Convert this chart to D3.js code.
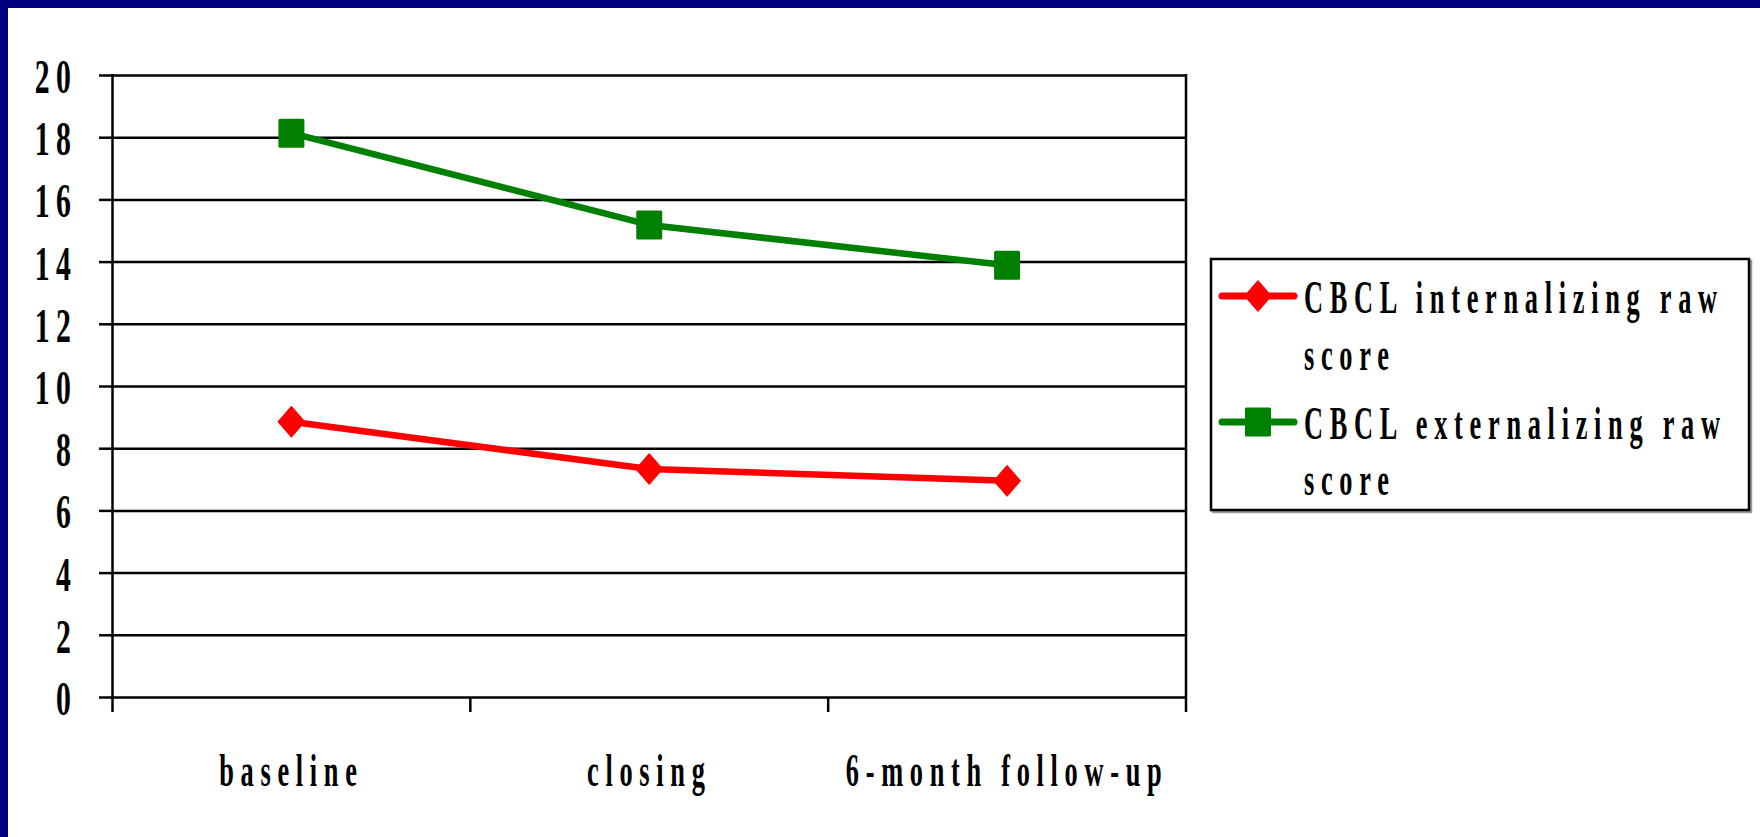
<!DOCTYPE html>
<html>
<head>
<meta charset="utf-8">
<script src="https://cdn.jsdelivr.net/npm/d3@7"></script>
<style>
  html, body { margin: 0; padding: 0; background: #fff; }
  svg { display: block; }
  .lbl { font-family: "Liberation Serif", "Times New Roman", serif; font-weight: bold; fill: #000; }
</style>
</head>
<body>
<svg id="chart" width="1760" height="837"></svg>
<script>
const categories = ["baseline", "closing", "6-month follow-up"];
const internalizing = [8.85, 7.33, 6.95];
const externalizing = [18.13, 15.18, 13.88];
const yTicks = [0, 2, 4, 6, 8, 10, 12, 14, 16, 18, 20];
const seriesNames = [["CBCL internalizing raw", "score"], ["CBCL externalizing raw", "score"]];

const W = 1760, H = 837;
const svg = d3.select("#chart");

// background with navy frame on top and left
svg.append("rect").attr("x", 0).attr("y", 0).attr("width", W).attr("height", H).attr("fill", "#000080");
svg.append("rect").attr("x", 8).attr("y", 8).attr("width", W - 8).attr("height", H - 8).attr("fill", "#fff");

const plot = { left: 112.5, right: 1186, top: 75, bottom: 697 };
const x = d3.scaleBand().domain(categories).range([plot.left, plot.right]).padding(0);
const y = d3.scaleLinear().domain([0, 20]).range([plot.bottom, plot.top]);

function condText(g, tx, ty, str, anchor, fs, sx, ls) {
  return g.append("g").attr("transform", `translate(${tx},${ty}) scale(${sx},1)`)
    .append("text").attr("class", "lbl")
    .attr("font-size", fs)
    .attr("letter-spacing", ls)
    .attr("text-anchor", anchor)
    .text(str);
}

// gridlines via axis
const grid = svg.append("g").attr("transform", `translate(${plot.left},0)`)
  .call(d3.axisLeft(y).tickValues(yTicks).tickSize(-(plot.right - plot.left)).tickFormat(""));
grid.select(".domain").remove();
grid.selectAll(".tick line").attr("stroke", "#000").attr("stroke-width", 2.5);

// y ticks (outer)
const yt = svg.append("g").attr("transform", `translate(${plot.left},0)`)
  .call(d3.axisLeft(y).tickValues(yTicks).tickSize(13.5).tickFormat(""));
yt.select(".domain").remove();
yt.selectAll(".tick line").attr("stroke", "#000").attr("stroke-width", 2.5);

// left & right vertical lines
svg.append("line").attr("x1", plot.left).attr("x2", plot.left).attr("y1", plot.top - 1).attr("y2", plot.bottom + 15)
  .attr("stroke", "#000").attr("stroke-width", 2.5);
svg.append("line").attr("x1", plot.right).attr("x2", plot.right).attr("y1", plot.top - 1).attr("y2", plot.bottom + 15)
  .attr("stroke", "#000").attr("stroke-width", 2.5);

// x category boundary ticks
const bounds = categories.map(c => x(c)).slice(1);
svg.selectAll(".xtick").data(bounds).enter().append("line")
  .attr("x1", d => d).attr("x2", d => d).attr("y1", plot.bottom).attr("y2", plot.bottom + 15)
  .attr("stroke", "#000").attr("stroke-width", 2.5);

// y labels
const ylab = svg.append("g");
yTicks.forEach(v => condText(ylab, 77, y(v) + 18, String(v), "end", 48, 0.62, 10));

// x labels
const xlab = svg.append("g");
categories.forEach(c => condText(xlab, x(c) + x.bandwidth() / 2, 786, c, "middle", 47, 0.56, 12));

const cx = c => x(c) + x.bandwidth() / 2;
const line = d3.line().x(d => cx(d[0])).y(d => y(d[1]));

// series
const series = [
  { vals: internalizing, color: "#FF0000", marker: "diamond" },
  { vals: externalizing, color: "#008000", marker: "square" }
];

function drawMarker(g, type, px, py, color) {
  if (type === "diamond") {
    const hw = 13.5, hh = 15.5;
    g.append("path").attr("d", `M${px},${py - hh}L${px + hw},${py}L${px},${py + hh}L${px - hw},${py}Z`)
      .attr("fill", color).attr("stroke", color).attr("stroke-width", 1).attr("stroke-linejoin", "round");
  } else {
    const hw = 13, hh = 14.5;
    g.append("rect").attr("x", px - hw).attr("y", py - hh).attr("width", hw * 2).attr("height", hh * 2)
      .attr("rx", 1.5).attr("fill", color);
  }
}

series.forEach(s => {
  const pts = categories.map((c, i) => [c, s.vals[i]]);
  svg.append("path").attr("d", line(pts)).attr("fill", "none").attr("stroke", s.color)
    .attr("stroke-width", 6.5).attr("stroke-linejoin", "round").attr("stroke-linecap", "round");
  const mg = svg.append("g");
  pts.forEach(p => drawMarker(mg, s.marker, cx(p[0]), y(p[1]), s.color));
});

// legend
const lg = svg.append("g");
lg.append("rect").attr("x", 1213).attr("y", 261).attr("width", 538).attr("height", 251)
  .attr("fill", "none").attr("stroke", "#999").attr("stroke-width", 2.5);
lg.append("rect").attr("x", 1211).attr("y", 259).attr("width", 538).attr("height", 251)
  .attr("fill", "#fff").attr("stroke", "#000").attr("stroke-width", 2.5);

const legRows = [
  { lineY: 296, baselines: [313, 370] },
  { lineY: 422, baselines: [439, 495] }
];
series.forEach((s, i) => {
  const r = legRows[i];
  lg.append("line").attr("x1", 1222).attr("x2", 1294).attr("y1", r.lineY).attr("y2", r.lineY)
    .attr("stroke", s.color).attr("stroke-width", 7).attr("stroke-linecap", "round");
  drawMarker(lg, s.marker, 1258, r.lineY, s.color);
  seriesNames[i].forEach((t, j) => condText(lg, 1304, r.baselines[j], t, "start", 47, 0.56, 12));
});
</script>
</body>
</html>
